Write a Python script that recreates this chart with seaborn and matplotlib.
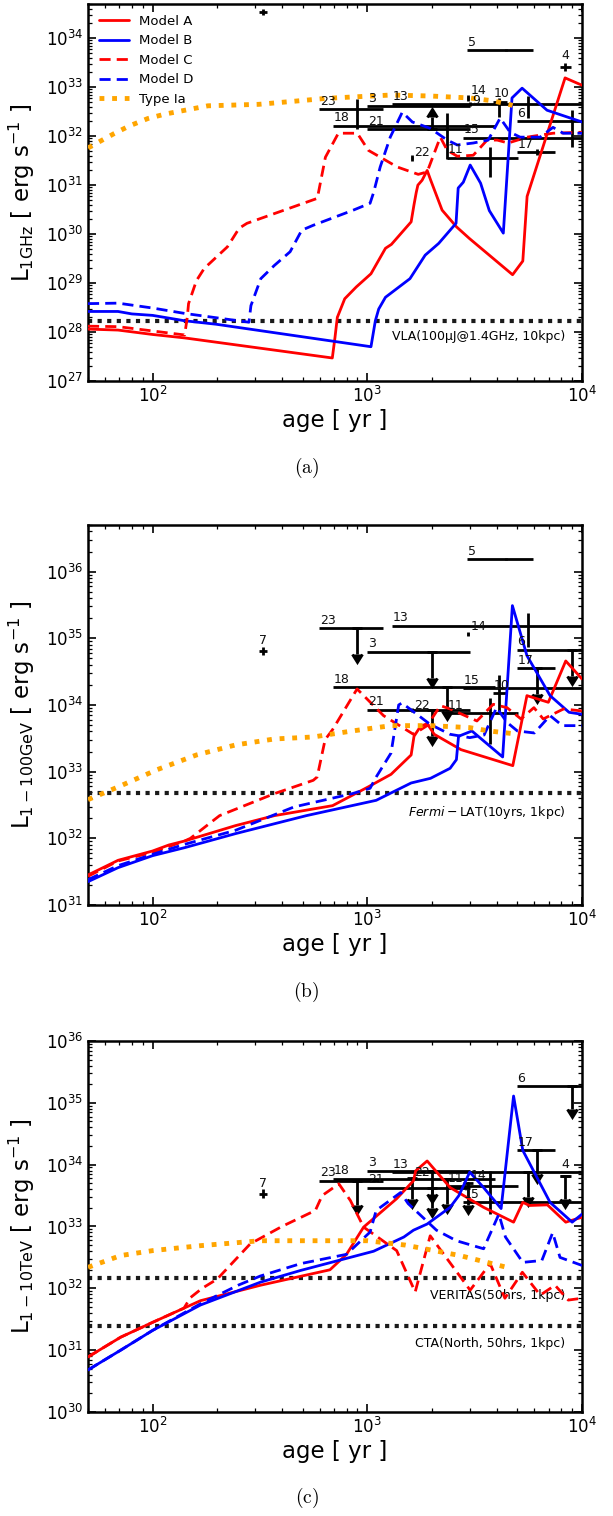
import numpy as np
import matplotlib
matplotlib.use("Agg")
import matplotlib.pyplot as plt
import seaborn as sns

# ---------------------------------------------------------------------------
# Model light curves: age [yr] and log10 luminosity [erg/s]
# ---------------------------------------------------------------------------
# (a) radio, 1 GHz
RADIO_A_T = [50, 69, 100, 141, 687, 707, 725, 785, 888, 1040, 1215, 1295, 1600, 1650, 1690,
             1720, 1800, 1900, 1970, 2230, 2600, 2990, 4750, 5300, 5550, 8340, 10000]
RADIO_A_L = [28.06, 28.04, 27.95, 27.88, 27.47, 27.89, 28.30, 28.68, 28.92, 29.19, 29.71, 29.79,
             30.25, 30.6, 30.85, 31.0, 31.1, 31.3, 31.11, 30.49, 30.15, 29.91, 29.17, 29.45,
             30.77, 33.19, 33.04]
RADIO_B_T = [50, 69, 80, 100, 141, 197, 1040, 1090, 1130, 1215, 1580, 1860, 2150, 2590, 2650,
             2800, 3015, 3370, 3700, 4300, 4720, 5260, 6870, 10000]
RADIO_B_L = [28.42, 28.42, 28.37, 28.34, 28.23, 28.16, 27.70, 28.23, 28.47, 28.71, 29.09, 29.57,
             29.81, 30.22, 30.94, 31.06, 31.41, 31.04, 30.48, 30.02, 32.78, 32.98, 32.53, 32.29]
RADIO_C_T = [50, 69, 141, 145, 147, 160, 174, 223, 253, 275, 585, 638, 733, 898, 1012, 1380,
             1727, 1900, 2188, 2357, 2624, 3115, 3614, 4027, 4529, 5548, 7328, 10000]
RADIO_C_L = [28.12, 28.11, 27.94, 28.3, 28.58, 29.05, 29.3, 29.74, 30.12, 30.22, 30.73, 31.57,
             32.06, 32.06, 31.71, 31.37, 31.22, 31.27, 31.98, 31.71, 31.59, 31.61, 31.92, 31.92,
             31.86, 31.98, 32.06, 32.08]
RADIO_D_T = [50, 69, 100, 141, 281, 287, 319, 369, 437, 495, 560, 861, 1030, 1070, 1148, 1279,
             1455, 1620, 1963, 2357, 2624, 3115, 3656, 4157, 4627, 5150, 6383, 7328, 8166, 10000]
RADIO_D_L = [28.58, 28.59, 28.49, 28.38, 28.20, 28.54, 29.09, 29.36, 29.64, 30.08, 30.18, 30.49,
             30.63, 30.85, 31.37, 31.98, 32.49, 32.29, 32.16, 31.92, 31.82, 31.86, 31.92, 32.37,
             32.08, 31.98, 31.98, 32.18, 32.06, 32.06]
RADIO_IA_T = [50, 54, 66, 78, 95, 114, 181, 312, 475, 636, 851, 1290, 1970, 3000, 3860, 4750]
RADIO_IA_L = [31.76, 31.84, 32.05, 32.21, 32.36, 32.45, 32.62, 32.65, 32.72, 32.77, 32.80, 32.84,
              32.82, 32.78, 32.72, 32.63]

# (b) gamma rays, 1-100 GeV
GEV_A_T = [50, 69, 100, 119, 141, 243, 369, 689, 1008, 1290, 1600, 1650, 1770, 1900, 2050, 2730,
           4760, 5540, 6970, 8400, 10000]
GEV_A_L = [31.45, 31.67, 31.81, 31.90, 31.96, 32.19, 32.34, 32.49, 32.77, 32.96, 33.25, 33.53,
           33.68, 33.72, 33.56, 33.33, 33.09, 34.14, 34.04, 34.66, 34.39]
GEV_B_T = [50, 69, 100, 141, 243, 520, 1100, 1600, 1970, 2430, 2600, 2660, 3070, 4270, 4740,
           5540, 7100, 8700, 10000]
GEV_B_L = [31.35, 31.56, 31.74, 31.86, 32.07, 32.34, 32.57, 32.83, 32.90, 33.05, 33.18, 33.53,
           33.61, 33.22, 35.49, 34.74, 34.14, 33.89, 33.86]
GEV_C_T = [50, 69, 100, 141, 150, 205, 369, 560, 584, 636, 689, 896, 1190, 1640, 1900, 2190,
           2430, 3240, 3860, 4470, 5200, 5970, 6600, 8200, 10000]
GEV_C_L = [31.43, 31.66, 31.79, 31.96, 32.0, 32.34, 32.67, 32.87, 32.92, 33.48, 33.63, 34.24,
           33.84, 33.56, 33.69, 33.99, 33.94, 33.76, 34.01, 33.96, 33.79, 33.96, 33.79, 33.94,
           33.91]
GEV_D_T = [50, 69, 100, 141, 243, 455, 851, 1030, 1100, 1290, 1400, 1450, 1960, 2430, 3000, 3500,
           4000, 4470, 5000, 6000, 7100, 8100, 10000]
GEV_D_L = [31.38, 31.59, 31.76, 31.91, 32.12, 32.47, 32.67, 32.75, 32.92, 33.28, 34.0, 34.03,
           33.71, 33.56, 33.51, 33.55, 33.96, 33.74, 33.61, 33.58, 33.84, 33.69, 33.69]
GEV_IA_T = [50, 69, 105, 160, 243, 369, 560, 850, 1290, 1970, 3000, 3700, 4760]
GEV_IA_L = [32.58, 32.77, 33.03, 33.25, 33.40, 33.49, 33.52, 33.61, 33.69, 33.69, 33.66, 33.61,
            33.57]

# (c) gamma rays, 1-10 TeV
TEV_A_T = [50, 71, 100, 167, 318, 670, 800, 961, 1370, 1640, 1680, 1900, 2430, 3480, 4800, 5300,
           5700, 6900, 8400, 10000]
TEV_A_L = [30.89, 31.21, 31.45, 31.8, 32.05, 32.3, 32.55, 32.99, 33.45, 33.74, 33.9, 34.06,
           33.63, 33.31, 33.07, 33.39, 33.34, 33.35, 33.07, 33.15]
TEV_B_T = [50, 71, 100, 167, 318, 490, 1070, 1480, 1640, 1900, 2430, 2670, 3000, 3480, 4200,
           4800, 5300, 7100, 9000, 10000]
TEV_B_L = [30.68, 31.0, 31.32, 31.73, 32.1, 32.29, 32.6, 32.83, 32.94, 33.04, 33.31, 33.5, 33.88,
           33.63, 33.29, 35.11, 34.23, 33.39, 33.07, 33.2]
TEV_C_T = [50, 71, 100, 140, 150, 170, 200, 285, 400, 573, 616, 737, 834, 961, 1370, 1671, 1963,
           3013, 3734, 4374, 5274, 6388, 7487, 8630, 10000]
TEV_C_L = [30.89, 31.21, 31.45, 31.68, 31.85, 32.0, 32.15, 32.72, 33.0, 33.26, 33.5, 33.69,
           33.42, 32.99, 32.61, 31.94, 32.85, 31.97, 32.4, 31.84, 32.26, 31.89, 32.05, 31.81,
           31.84]
TEV_D_T = [50, 71, 100, 167, 250, 318, 490, 800, 1030, 1100, 1430, 1550, 2100, 2600, 3480, 4100,
           4400, 5300, 6500, 7300, 7900, 10000]
TEV_D_L = [30.68, 31.0, 31.32, 31.75, 32.05, 32.2, 32.4, 32.55, 32.91, 33.26, 33.55, 33.37,
           32.94, 32.77, 32.64, 33.2, 32.83, 32.42, 32.45, 32.9, 32.5, 32.37]
TEV_IA_T = [50, 71, 100, 167, 318, 1000, 1500, 2700, 4700]
TEV_IA_L = [32.34, 32.53, 32.61, 32.69, 32.77, 32.77, 32.7, 32.53, 32.32]

# Instrument sensitivities [erg/s]
VLA_LIMIT = 1.7e28
FERMI_LIMIT = 4.8e32
VERITAS_LIMIT = 1.45e32
CTA_LIMIT = 2.45e31

# ---------------------------------------------------------------------------
# Observed remnants: ages [yr] (low, centre, high)
# ---------------------------------------------------------------------------
SNR_ID = ['3', '4', '5', '6', '7', '9', '10', '11', '13', '14', '15', '17', '18', '21', '22', '23']
AGE_LO = [1000, 7903, 2917, 4986, 314, 2990, 3855, 2355, 1307, 2920, 2796, 4986, 695, 1000, 1600, 598]
AGE_C = [2000, 8337, 4432, 8953, 328, 3013, 4111, 3734, 5609, 2950, 5300, 6196, 2349, 2000, 1619, 896]
AGE_HI = [3013, 8889, 5916, 20000, 342, 3036, 4478, 5039, 20000, 2980, 20000, 7487, 3937, 3013, 1640, 1187]

# log10 L, lower/upper extent (dex), kind: e=error bar, u=upper limit, l=lower limit, -=no y error
RADIO_OBS_L = [32.61, 33.41, 33.755, 32.31, 34.54, 32.66, 32.70, 31.56, 32.65, 32.78, 31.97, 31.67,
               32.21, 32.14, 31.56, 32.55]
RADIO_OBS_DLO = [0, 0.08, 0.02, 0.53, 0.06, 0.04, 0.31, 0.40, 0.28, 0.06, 0, 0.06, 0.68, 0, 0.06, 0.41]
RADIO_OBS_DHI = [0, 0.08, 0.02, 0.22, 0.06, 0.04, 0.08, 0.22, 0.17, 0.06, 0, 0.06, 0.26, 0.25, 0.06, 0.21]
RADIO_OBS_KIND = ['-', 'e', 'e', 'e', 'e', 'e', 'e', 'e', 'e', 'e', '-', 'e', 'e', 'l', 'e', 'e']

GEV_OBS_L = [34.80, None, 36.19, 34.83, 34.81, None, 34.18, 33.88, 35.19, 35.07, 34.25, 34.55,
             34.27, 33.93, 33.92, 35.15]
GEV_OBS_DLO = [0.39, 0, 0.02, 0.39, 0.06, 0, 0.29, 0.47, 0.32, 0.03, 0, 0.39, 0.36, 0.40, 0.03, 0.39]
GEV_OBS_DHI = [0, 0, 0.02, 0, 0.06, 0, 0.27, 0.22, 0.19, 0.03, 0, 0, 0, 0, 0.03, 0]
GEV_OBS_KIND = ['u', None, 'e', 'u', 'e', None, 'e', 'e', 'e', 'e', '-', 'u', 'u', 'u', 'e', 'u']

TEV_OBS_L = [33.90, 33.81, None, 35.27, 33.53, None, None, 33.65, 33.88, 33.71, 33.39, 34.23,
             33.77, 33.63, 33.79, 33.74]
TEV_OBS_DLO = [0.38, 0.36, 0, 0.37, 0.07, 0, 0, 0.44, 0.41, 0.37, 0, 0.38, 0.40, 0.33, 0.35, 0.39]
TEV_OBS_DHI = [0, 0, 0, 0, 0.07, 0, 0, 0.24, 0, 0, 0, 0, 0, 0, 0, 0]
TEV_OBS_KIND = ['u', 'u', None, 'u', 'e', None, None, 'e', 'u', 'u', '-', 'u', 'u', 'u', 'u', 'u']

MODEL_NAMES = ['Model A', 'Model B', 'Model C', 'Model D', 'Type Ia']

# ---------------------------------------------------------------------------
# Styling
# ---------------------------------------------------------------------------
sns.set_theme(style="ticks")
plt.rcParams["font.family"] = ["DejaVu Sans"]
plt.rcParams["mathtext.fontset"] = "dejavusans"
plt.rcParams["axes.linewidth"] = 1.6
for key in ["text.color", "axes.labelcolor", "xtick.color", "ytick.color", "axes.edgecolor",
            "lines.markerfacecolor", "lines.markeredgecolor"]:
    plt.rcParams[key] = "black"

MODEL_STYLE = [
    dict(color="#ff0000", linestyle="-", linewidth=2.0),
    dict(color="#0000ff", linestyle="-", linewidth=2.0),
    dict(color="#ff0000", linestyle=(0, (4, 2.2)), linewidth=2.0),
    dict(color="#0000ff", linestyle=(0, (4, 2.2)), linewidth=2.0),
    dict(color="#ffa500", linestyle=(0, (1, 1.6)), linewidth=3.5),
]
BAR_LW = 2.0
# label placement: (anchor, dx, dy) in points; anchor 'lo' = left end of bar
LABEL_POS = {'7': ('c', 0, 3), '4': ('c', 0, 4), '14': ('r', 1.5, 0.5), '22': ('r', 1.5, -1),
             '9': ('r', 1.5, -2)}

fig = plt.figure(figsize=(6.13, 15.16), dpi=100)
W = 613.0
H = 1516.0
ax_a = fig.add_axes([88 / W, 1 - 381 / H, 494 / W, 377 / H])
ax_b = fig.add_axes([88 / W, 1 - 905 / H, 494 / W, 380 / H])
ax_c = fig.add_axes([88 / W, 1 - 1412 / H, 494 / W, 371 / H])


def draw_models(ax, curves, with_label):
    for (t, logl), name, st in zip(curves, MODEL_NAMES, MODEL_STYLE):
        sns.lineplot(x=np.asarray(t, float), y=10 ** np.asarray(logl, float), ax=ax,
                     sort=False, estimator=None, label=name if with_label else None,
                     zorder=4, legend=with_label, **st)


def draw_obs(ax, logl, dlo, dhi, kind):
    for i, sid in enumerate(SNR_ID):
        if logl[i] is None:
            continue
        y = 10 ** logl[i]
        tc, tl, th = AGE_C[i], AGE_LO[i], AGE_HI[i]
        ax.errorbar([tc], [y], xerr=[[tc - tl], [th - tc]], fmt="none", ecolor="black",
                    elinewidth=BAR_LW, capsize=0, zorder=3)
        k = kind[i]
        if k == "e":
            ax.errorbar([tc], [y], yerr=[[y - 10 ** (logl[i] - dlo[i])], [10 ** (logl[i] + dhi[i]) - y]],
                        fmt="none", ecolor="black", elinewidth=BAR_LW, capsize=0, zorder=3)
        elif k == "u":
            ax.errorbar([tc], [y], yerr=[[y - 10 ** (logl[i] - dlo[i])], [0]], uplims=True,
                        fmt="none", ecolor="black", elinewidth=BAR_LW, capsize=3.8,
                        capthick=BAR_LW, zorder=3)
        elif k == "l":
            ax.errorbar([tc], [y], yerr=[[0], [10 ** (logl[i] + dhi[i]) - y]], lolims=True,
                        fmt="none", ecolor="black", elinewidth=BAR_LW, capsize=3.8,
                        capthick=BAR_LW, zorder=3)
        anchor, dx, dy = LABEL_POS.get(sid, ('lo', 0.3, 1.0))
        if anchor == 'lo':
            xa, ha = tl, 'left'
        elif anchor == 'c':
            xa, ha = tc, 'center'
        else:
            xa, ha = tc, 'left'
        ax.annotate(sid, xy=(xa, y), xytext=(dx, dy), textcoords="offset points",
                    ha=ha, va="bottom", fontsize=9, color="#111111", clip_on=True,
                    annotation_clip=False, zorder=6)


def limit_line(ax, value, text, drop=-7):
    ax.axhline(value, color="k", linestyle=(0, (1, 1.3)), linewidth=3.0, zorder=2)
    ax.annotate(text, xy=(1, value), xycoords=("axes fraction", "data"), xytext=(-12, drop),
                textcoords="offset points", ha="right", va="top", fontsize=9)


def style_axes(ax, ylim, ylabel):
    ax.set_xscale("log")
    ax.set_yscale("log")
    ax.set_xlim(50, 1e4)
    ax.set_ylim(*ylim)
    ax.set_xlabel("age [ yr ]", fontsize=16.5, labelpad=2)
    ax.set_ylabel(ylabel, fontsize=16.5, labelpad=6)
    ax.tick_params(which="both", direction="in", top=True, right=True, labelsize=12)
    ax.tick_params(which="major", length=6, width=1.2)
    ax.tick_params(which="minor", length=3, width=0.9)
    for sp in ax.spines.values():
        sp.set_linewidth(1.8)
        sp.set_color("black")


# (a) radio
draw_models(ax_a, [(RADIO_A_T, RADIO_A_L), (RADIO_B_T, RADIO_B_L), (RADIO_C_T, RADIO_C_L),
                   (RADIO_D_T, RADIO_D_L), (RADIO_IA_T, RADIO_IA_L)], True)
draw_obs(ax_a, RADIO_OBS_L, RADIO_OBS_DLO, RADIO_OBS_DHI, RADIO_OBS_KIND)
limit_line(ax_a, VLA_LIMIT, "VLA(100\u03bcJ@1.4GHz, 10kpc)", drop=-7)
style_axes(ax_a, (1e27, 5e34), r"L$_{\mathrm{1GHz}}$ [ erg s$^{-1}$ ]")
ax_a.legend(loc="upper left", frameon=False, fontsize=9.5, handlelength=2.3,
            handletextpad=0.8, labelspacing=0.5, borderaxespad=0.4)

# (b) GeV
draw_models(ax_b, [(GEV_A_T, GEV_A_L), (GEV_B_T, GEV_B_L), (GEV_C_T, GEV_C_L),
                   (GEV_D_T, GEV_D_L), (GEV_IA_T, GEV_IA_L)], False)
draw_obs(ax_b, GEV_OBS_L, GEV_OBS_DLO, GEV_OBS_DHI, GEV_OBS_KIND)
limit_line(ax_b, FERMI_LIMIT, r"$Fermi-$LAT(10yrs, 1kpc)", drop=-8)
style_axes(ax_b, (1e31, 5e36), r"L$_{\mathrm{1-100GeV}}$ [ erg s$^{-1}$ ]")

# (c) TeV
draw_models(ax_c, [(TEV_A_T, TEV_A_L), (TEV_B_T, TEV_B_L), (TEV_C_T, TEV_C_L),
                   (TEV_D_T, TEV_D_L), (TEV_IA_T, TEV_IA_L)], False)
draw_obs(ax_c, TEV_OBS_L, TEV_OBS_DLO, TEV_OBS_DHI, TEV_OBS_KIND)
limit_line(ax_c, VERITAS_LIMIT, "VERITAS(50hrs, 1kpc)", drop=-8)
limit_line(ax_c, CTA_LIMIT, "CTA(North, 50hrs, 1kpc)", drop=-8)
style_axes(ax_c, (1e30, 1e36), r"L$_{\mathrm{1-10TeV}}$ [ erg s$^{-1}$ ]")

for ax in (ax_b, ax_c):
    if ax.get_legend() is not None:
        ax.get_legend().remove()

for ypos, tag in [(1 - 468 / H, "(a)"), (1 - 992 / H, "(b)"), (1 - 1498 / H, "(c)")]:
    fig.text(0.5, ypos, r"$\mathrm{%s}$" % tag, math_fontfamily="cm", fontsize=14,
             ha="center", va="center")

fig.savefig("out.png", dpi=100)
